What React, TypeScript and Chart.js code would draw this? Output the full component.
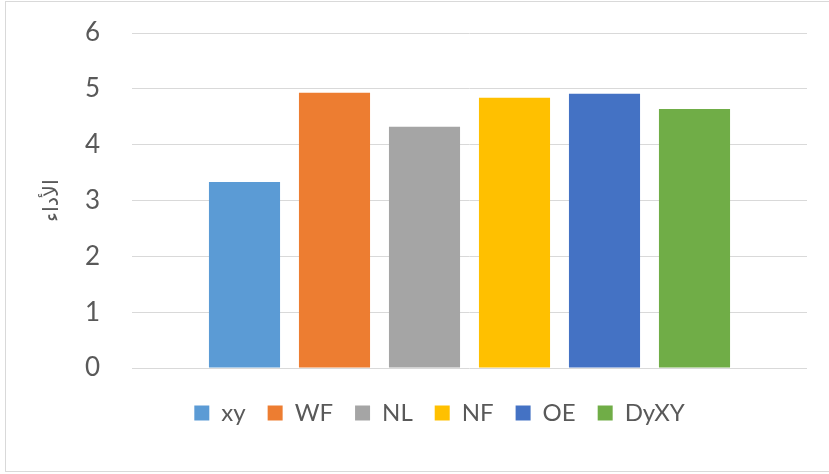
import React, { useEffect, useRef } from "react";
import { Chart, registerables } from "chart.js";

Chart.register(...registerables);

const categories = [""];
const seriesNames = ["xy", "WF", "NL", "NF", "OE", "DyXY"];
const seriesValues = [3.33, 4.93, 4.32, 4.84, 4.91, 4.64];
const seriesColors = ["#5B9BD5", "#ED7D31", "#A5A5A5", "#FFC000", "#4472C4", "#70AD47"];
const yTicks = [0, 1, 2, 3, 4, 5, 6];
const yTitle = "الأداء";

export default function App() {
  const ref = useRef<HTMLCanvasElement | null>(null);

  useEffect(() => {
    if (!ref.current) return;
    const shiftLegend = {
      id: "shiftLegend",
      afterLayout(chart: any) {
        const l = chart.legend;
        if (l) {
          l.left += 36;
          l.right += 36;
        }
      },
    };
    const chart = new Chart(ref.current, {
      type: "bar",
      data: {
        labels: categories,
        datasets: seriesNames.map((name, i) => ({
          label: name,
          data: [seriesValues[i]],
          backgroundColor: seriesColors[i],
          borderWidth: 0,
          categoryPercentage: 0.8,
          barPercentage: 0.79,
        })),
      },
      options: {
        animation: false,
        responsive: false,
        maintainAspectRatio: false,
        layout: { padding: { left: 0, right: 22, top: 33, bottom: 39 } },
        plugins: {
          tooltip: { enabled: false },
          legend: {
            position: "bottom",
            labels: {
              boxWidth: 15,
              boxHeight: 15,
              padding: 22,
              color: "#595959",
              font: { family: "Lato", size: 24 },
            },
          },
        },
        scales: {
          x: {
            ticks: { display: false },
            grid: { display: false },
            border: { display: false },
            afterFit: (s: any) => {
              s.height = 11;
            },
          },
          y: {
            min: 0,
            max: 6,
            afterBuildTicks: (s: any) => {
              s.ticks = yTicks.map((v) => ({ value: v }));
            },
            ticks: {
              stepSize: 1,
              padding: 2,
              color: "#595959",
              font: { family: "Lato", size: 26 },
            },
            grid: {
              color: "#D9D9D9",
              lineWidth: 1,
              drawTicks: true,
              tickLength: 30,
              tickColor: "rgba(0,0,0,0)",
            },
            border: { display: false },
            title: {
              display: true,
              text: yTitle,
              color: "#595959",
              font: { family: "DejaVu Sans", size: 21 },
              padding: { top: 40, bottom: 0 },
            },
            afterFit: (s: any) => {
              s.width = 132;
            },
          },
        },
      },
      plugins: [shiftLegend],
    });
    return () => chart.destroy();
  }, []);

  return (
    <div style={{ position: "absolute", left: 0, top: 0, width: 829, height: 474, overflow: "hidden", background: "#fff" }}>
      <div
        style={{
          position: "absolute",
          left: 5,
          top: 1,
          width: 830,
          height: 471,
          border: "1px solid #D9D9D9",
          boxSizing: "border-box",
        }}
      />
      <canvas ref={ref} width={829} height={474} style={{ position: "absolute", left: 0, top: 0 }} />
    </div>
  );
}
